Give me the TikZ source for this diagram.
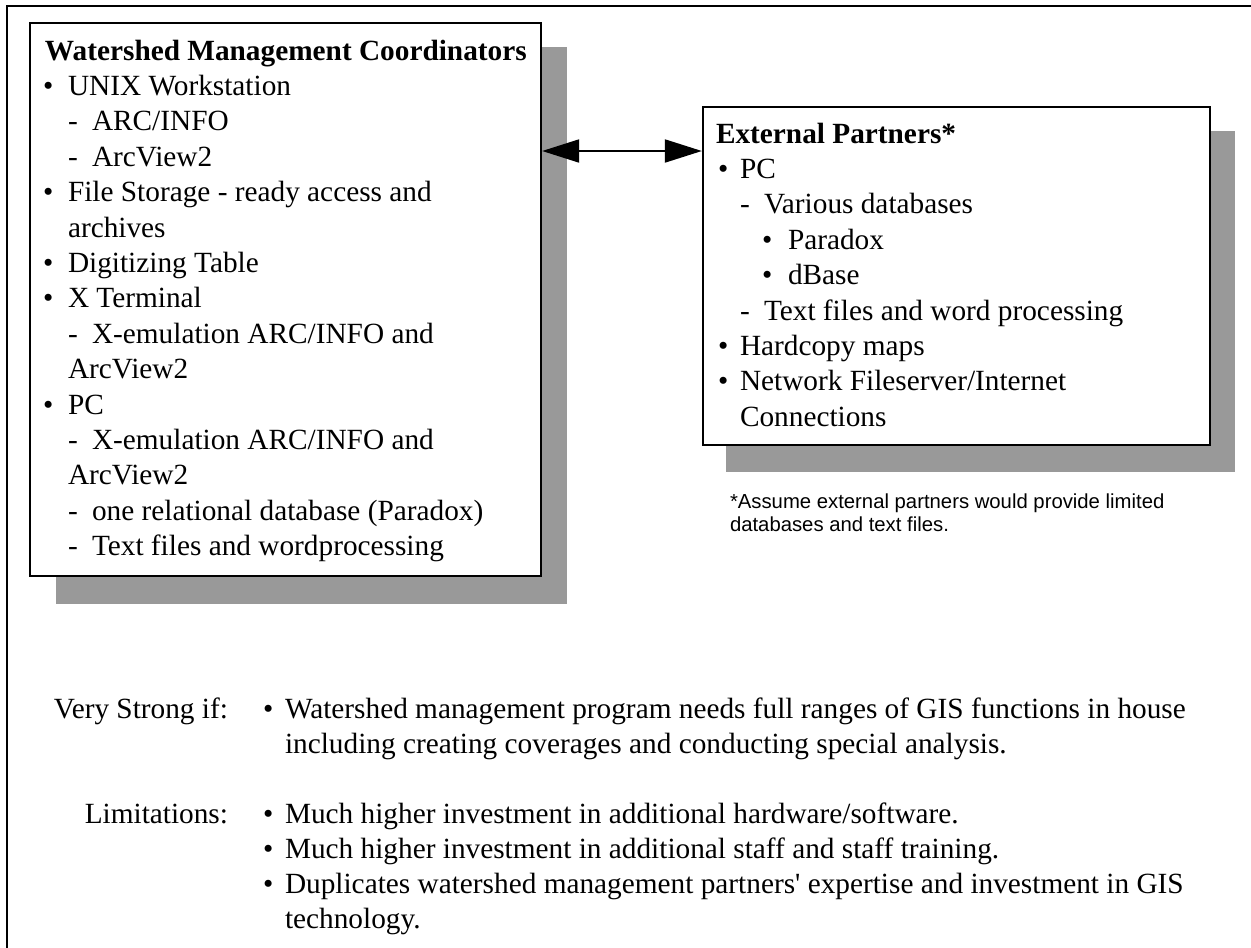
\documentclass[tikz,border=0pt]{standalone}
\usepackage{fontspec}
\setmainfont{Liberation Serif}[Ligatures=TeXOff]
\newfontfamily\arialf{Liberation Sans}
\usetikzlibrary{arrows.meta}
\definecolor{shadowgray}{RGB}{153,153,153}
\begin{document}
\begin{tikzpicture}[x=1pt,y=-1pt,
  txt/.style={anchor=base west, inner sep=0pt, outer sep=0pt, font=\fontsize{29.3}{35.4}\selectfont},
  boldtxt/.style={txt, font=\fontsize{29.3}{35.4}\selectfont\bfseries},
  lbl/.style={txt, anchor=base east},
  note/.style={anchor=base west, inner sep=0pt, outer sep=0pt, font=\arialf\fontsize{20.3}{23}\selectfont},
  panel/.style={draw, line width=2.3pt, fill=white, inner sep=0pt},
  shade/.style={fill=shadowgray},
  link/.style={line width=2pt, {Triangle[length=37pt,width=23pt]}-{Triangle[length=37pt,width=23pt]}}]
\useasboundingbox (0,0) rectangle (1251,948);
\fill[white] (0,0) rectangle (1251,948);
% outer frame
\draw[line width=2.3pt] (7,980) -- (7,6) -- (1280,6);
% shadows
\fill[shade] (56,47) rectangle (567,604);
\fill[shade] (726,131) rectangle (1235,472);
% boxes
\node[panel, minimum width=511pt, minimum height=553pt] (wmc) at (285.5,299.5) {};
\node[panel, minimum width=507pt, minimum height=338pt] (ep) at (956.5,276) {};
% left box text
\node[boldtxt] (w0) at (45,60) {Watershed Management Coordinators};
\node[txt] (w1b) at (43,95.4) {•};
\node[txt] (w1) at (68,95.4) {UNIX Workstation};
\node[txt] (w2d) at (68,130.8) {-};
\node[txt] (w2) at (92,130.8) {ARC/INFO};
\node[txt] (w3d) at (68,166.2) {-};
\node[txt] (w3) at (92,166.2) {ArcView2};
\node[txt] (w4b) at (43,201.6) {•};
\node[txt] (w4) at (68,201.6) {File Storage - ready access and};
\node[txt] (w5) at (68,237) {archives};
\node[txt] (w6b) at (43,272.4) {•};
\node[txt] (w6) at (68,272.4) {Digitizing Table};
\node[txt] (w7b) at (43,307.8) {•};
\node[txt] (w7) at (68,307.8) {X Terminal};
\node[txt] (w8d) at (68,343.2) {-};
\node[txt] (w8) at (92,343.2) {X-emulation ARC/INFO and};
\node[txt] (w9) at (68,378.6) {ArcView2};
\node[txt] (w10b) at (43,414) {•};
\node[txt] (w10) at (68,414) {PC};
\node[txt] (w11d) at (68,449.4) {-};
\node[txt] (w11) at (92,449.4) {X-emulation ARC/INFO and};
\node[txt] (w12) at (68,484.8) {ArcView2};
\node[txt] (w13d) at (68,520.2) {-};
\node[txt] (w13) at (92,520.2) {one relational database (Paradox)};
\node[txt] (w14d) at (68,555.6) {-};
\node[txt] (w14) at (92,555.6) {Text files and wordprocessing};
% right box text
\node[boldtxt] (e0) at (716,143) {External Partners*};
\node[txt] (e1b) at (718,178.4) {•};
\node[txt] (e1) at (740,178.4) {PC};
\node[txt] (e2d) at (740,213.8) {-};
\node[txt] (e2) at (764,213.8) {Various databases};
\node[txt] (e3b) at (762,249.2) {•};
\node[txt] (e3) at (788,249.2) {Paradox};
\node[txt] (e4b) at (762,284.6) {•};
\node[txt] (e4) at (788,284.6) {dBase};
\node[txt] (e5d) at (740,320) {-};
\node[txt] (e5) at (764,320) {Text files and word processing};
\node[txt] (e6b) at (718,355.4) {•};
\node[txt] (e6) at (740,355.4) {Hardcopy maps};
\node[txt] (e7b) at (718,390.8) {•};
\node[txt] (e7) at (740,390.8) {Network Fileserver/Internet};
\node[txt] (e8) at (740,426.2) {Connections};
% footnote
\node[note] (fn1) at (730,508) {*Assume external partners would provide limited};
\node[note] (fn2) at (730,531) {databases and text files.};
% connector
\coordinate (ay) at (0,151);
\draw[link] (wmc.east |- ay) -- (ep.west |- ay);
% bottom section
\node[lbl] (vs) at (228,718) {Very Strong if:};
\node[txt] (vs1b) at (263,718) {•};
\node[txt] (vs1) at (285,718) {Watershed management program needs full ranges of GIS functions in house};
\node[txt] (vs1c) at (285,753) {including creating coverages and conducting special analysis.};
\node[lbl] (lim) at (228,823) {Limitations:};
\node[txt] (lim1b) at (263,823) {•};
\node[txt] (lim1) at (285,823) {Much higher investment in additional hardware/software.};
\node[txt] (lim2b) at (263,858) {•};
\node[txt] (lim2) at (285,858) {Much higher investment in additional staff and staff training.};
\node[txt] (lim3b) at (263,893) {•};
\node[txt] (lim3) at (285,893) {Duplicates watershed management partners' expertise and investment in GIS};
\node[txt] (lim3c) at (285,928) {technology.};
\end{tikzpicture}
\end{document}
